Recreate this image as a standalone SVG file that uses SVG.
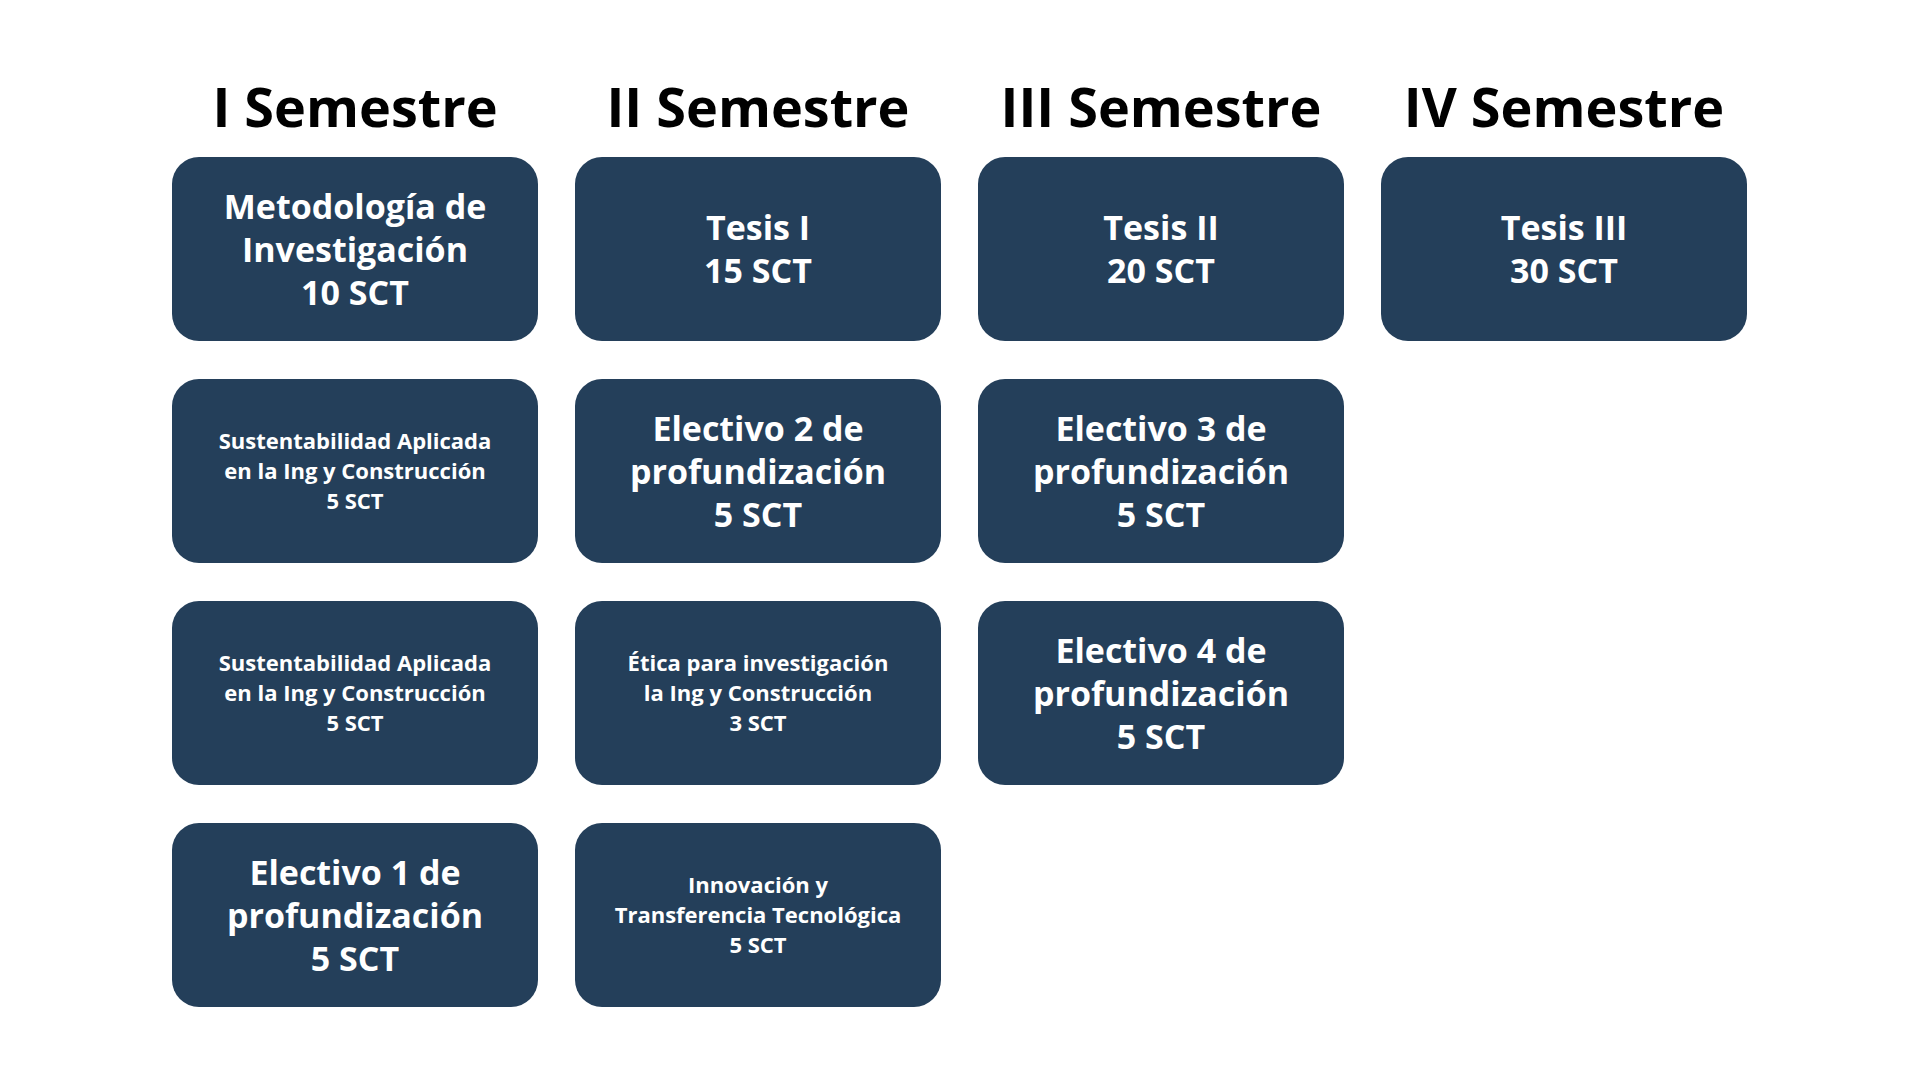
<svg xmlns="http://www.w3.org/2000/svg" width="1920" height="1080" viewBox="0 0 1920 1080">
<style>
.b{fill:#243f5a}
.h{font-family:"Open Sans","Noto Sans",sans-serif;font-weight:bold;font-size:54px;fill:#000;text-anchor:middle}
.t{font-family:"Open Sans","Noto Sans",sans-serif;font-weight:bold;font-size:34px;fill:#fff;text-anchor:middle}
.s{font-family:"Open Sans","Noto Sans",sans-serif;font-weight:bold;font-size:22px;fill:#fff;text-anchor:middle}
</style>
<rect width="1920" height="1080" fill="#fff"/>
<g id="headers">
<text class="h" x="355" y="127">I Semestre</text>
<text class="h" x="758" y="127">II Semestre</text>
<text class="h" x="1161" y="127">III Semestre</text>
<text class="h" x="1564" y="127">IV Semestre</text>
</g>
<g id="n1"><rect class="b" x="172" y="157" width="366" height="184" rx="27"/><text class="t" x="355" y="219">Metodología de</text><text class="t" x="355" y="262">Investigación</text><text class="t" x="355" y="305">10 SCT</text></g>
<g id="n2"><rect class="b" x="172" y="379" width="366" height="184" rx="27"/><text class="s" x="355" y="449">Sustentabilidad Aplicada</text><text class="s" x="355" y="479">en la Ing y Construcción</text><text class="s" x="355" y="509">5 SCT</text></g>
<g id="n3"><rect class="b" x="172" y="601" width="366" height="184" rx="27"/><text class="s" x="355" y="671">Sustentabilidad Aplicada</text><text class="s" x="355" y="701">en la Ing y Construcción</text><text class="s" x="355" y="731">5 SCT</text></g>
<g id="n4"><rect class="b" x="172" y="823" width="366" height="184" rx="27"/><text class="t" x="355" y="885">Electivo 1 de</text><text class="t" x="355" y="928">profundización</text><text class="t" x="355" y="971">5 SCT</text></g>
<g id="n5"><rect class="b" x="575" y="157" width="366" height="184" rx="27"/><text class="t" x="758" y="240">Tesis I</text><text class="t" x="758" y="283">15 SCT</text></g>
<g id="n6"><rect class="b" x="575" y="379" width="366" height="184" rx="27"/><text class="t" x="758" y="441">Electivo 2 de</text><text class="t" x="758" y="484">profundización</text><text class="t" x="758" y="527">5 SCT</text></g>
<g id="n7"><rect class="b" x="575" y="601" width="366" height="184" rx="27"/><text class="s" x="758" y="671">Ética para investigación</text><text class="s" x="758" y="701">la Ing y Construcción</text><text class="s" x="758" y="731">3 SCT</text></g>
<g id="n8"><rect class="b" x="575" y="823" width="366" height="184" rx="27"/><text class="s" x="758" y="893">Innovación y</text><text class="s" x="758" y="923">Transferencia Tecnológica</text><text class="s" x="758" y="953">5 SCT</text></g>
<g id="n9"><rect class="b" x="978" y="157" width="366" height="184" rx="27"/><text class="t" x="1161" y="240">Tesis II</text><text class="t" x="1161" y="283">20 SCT</text></g>
<g id="n10"><rect class="b" x="978" y="379" width="366" height="184" rx="27"/><text class="t" x="1161" y="441">Electivo 3 de</text><text class="t" x="1161" y="484">profundización</text><text class="t" x="1161" y="527">5 SCT</text></g>
<g id="n11"><rect class="b" x="978" y="601" width="366" height="184" rx="27"/><text class="t" x="1161" y="663">Electivo 4 de</text><text class="t" x="1161" y="706">profundización</text><text class="t" x="1161" y="749">5 SCT</text></g>
<g id="n12"><rect class="b" x="1381" y="157" width="366" height="184" rx="27"/><text class="t" x="1564" y="240">Tesis III</text><text class="t" x="1564" y="283">30 SCT</text></g>
<g id="connectors"/>
</svg>
